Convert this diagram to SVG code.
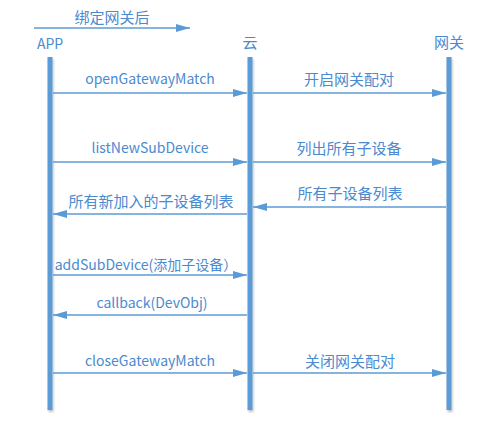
<svg xmlns="http://www.w3.org/2000/svg" width="500" height="422" viewBox="0 0 500 422">
<defs>
<marker id="ah" viewBox="0 0 14 8" refX="14" refY="4" markerWidth="14" markerHeight="8" markerUnits="userSpaceOnUse" orient="auto">
<path d="M0,0 L14,4 L0,8 Z" fill="#5b9bd5"/>
</marker>
<filter id="sh" x="-2" y="-0.1" width="5" height="1.2">
<feGaussianBlur in="SourceAlpha" stdDeviation="1.2"/>
<feOffset dx="1" dy="1.5" result="b"/>
<feComponentTransfer><feFuncA type="linear" slope="0.25"/></feComponentTransfer>
<feMerge><feMergeNode/><feMergeNode in="SourceGraphic"/></feMerge>
</filter>
</defs>
<style>
text{font-family:"Microsoft YaHei","Noto Sans CJK SC","Noto Sans",sans-serif;font-size:14px;fill:#4a8ad0;text-anchor:middle}
.cjk{font-size:15px}
.life{fill:#5b9bd5}
.msg{stroke:#5b9bd5;stroke-width:1.5;fill:none;marker-end:url(#ah)}
</style>
<rect width="500" height="422" fill="#ffffff"/>
<g id="title">
<line class="msg" x1="34" y1="28" x2="190" y2="28"/>
<text class="cjk" x="112" y="23">绑定网关后</text>
</g>
<g id="app">
<text x="50" y="49">APP</text>
<rect class="life" x="47.5" y="57" width="5" height="353" filter="url(#sh)"/>
</g>
<g id="cloud">
<text class="cjk" x="250" y="48">云</text>
<rect class="life" x="247.5" y="57" width="5" height="353" filter="url(#sh)"/>
</g>
<g id="gateway">
<text class="cjk" x="449" y="48">网关</text>
<rect class="life" x="446.5" y="57" width="5" height="353" filter="url(#sh)"/>
</g>
<g id="connectors">
<line class="msg" x1="53" y1="93" x2="247" y2="93"/>
<text x="150" y="84">openGatewayMatch</text>
<line class="msg" x1="253" y1="93" x2="446" y2="93"/>
<text class="cjk" x="349" y="85">开启网关配对</text>
<line class="msg" x1="53" y1="162" x2="247" y2="162"/>
<text x="150" y="153">listNewSubDevice</text>
<line class="msg" x1="253" y1="162" x2="446" y2="162"/>
<text class="cjk" x="349" y="154">列出所有子设备</text>
<line class="msg" x1="446" y1="207" x2="253" y2="207"/>
<text class="cjk" x="350" y="199">所有子设备列表</text>
<line class="msg" x1="247" y1="214" x2="53" y2="214"/>
<text class="cjk" x="151" y="207">所有新加入的子设备列表</text>
<line class="msg" x1="53" y1="275" x2="247" y2="275"/>
<text x="146" y="270">addSubDevice(添加子设备）</text>
<line class="msg" x1="247" y1="315" x2="53" y2="315"/>
<text x="152" y="308">callback(DevObj)</text>
<line class="msg" x1="53" y1="373" x2="247" y2="373"/>
<text x="150" y="366">closeGatewayMatch</text>
<line class="msg" x1="253" y1="373" x2="446" y2="373"/>
<text class="cjk" x="350" y="367">关闭网关配对</text>
</g>
</svg>
